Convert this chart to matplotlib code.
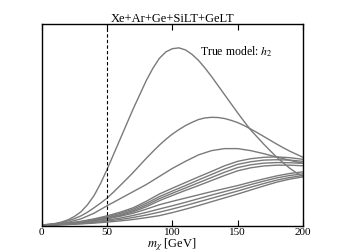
import numpy as np
import matplotlib
matplotlib.use("Agg")
import matplotlib.pyplot as plt

plt.rcParams['font.family'] = ['Liberation Serif', 'DejaVu Serif']
plt.rcParams['mathtext.fontset'] = 'stix'

# WIMP mass grids [GeV]
m_fine = [0, 5, 10, 15, 20, 25, 30, 35, 40, 45, 50, 55, 60, 65, 70, 75, 80, 85, 90, 95, 100,
          105, 110, 115, 120, 125, 130, 135, 140, 145, 150, 155, 160, 165, 170, 175, 180,
          185, 190, 195, 200]
m_chi = [0, 10, 20, 30, 40, 50, 60, 70, 80, 90, 100,
         110, 120, 130, 140, 150, 160, 170, 180, 190, 200]

# curves (arbitrary units, 0..1 of the axes)
curve_a = [0.005, 0.008, 0.012, 0.019, 0.03, 0.047, 0.07, 0.105, 0.15, 0.21, 0.28,
           0.355, 0.43, 0.505, 0.58, 0.65, 0.72, 0.78, 0.83, 0.862, 0.878,
           0.882, 0.872, 0.85, 0.82, 0.782, 0.74, 0.695, 0.65, 0.605, 0.56,
           0.517, 0.475, 0.44, 0.405, 0.372, 0.34, 0.312, 0.285, 0.263, 0.245]
curve_b = [0.005, 0.007, 0.01, 0.016, 0.025, 0.036, 0.05, 0.068, 0.09, 0.113, 0.138,
           0.168, 0.2, 0.232, 0.265, 0.3, 0.335, 0.368, 0.4, 0.429, 0.455,
           0.477, 0.497, 0.513, 0.527, 0.535, 0.538, 0.537, 0.532, 0.523, 0.512,
           0.497, 0.48, 0.462, 0.443, 0.424, 0.405, 0.387, 0.37, 0.355, 0.34]
curve_c = [0.005, 0.008, 0.018, 0.035, 0.063, 0.1, 0.135, 0.17, 0.205, 0.245, 0.285,
           0.32, 0.352, 0.373, 0.383, 0.383, 0.373, 0.358, 0.341, 0.325, 0.31]
upper_1 = [0.005, 0.008, 0.014, 0.023, 0.035, 0.05, 0.068, 0.09, 0.122, 0.158, 0.187,
           0.215, 0.243, 0.27, 0.298, 0.32, 0.333, 0.34, 0.342, 0.338, 0.33]
upper_2 = [0.005, 0.007, 0.012, 0.021, 0.032, 0.045, 0.062, 0.083, 0.112, 0.145, 0.173,
           0.2, 0.228, 0.255, 0.282, 0.305, 0.318, 0.326, 0.328, 0.326, 0.32]
upper_3 = [0.005, 0.007, 0.011, 0.019, 0.029, 0.041, 0.056, 0.076, 0.103, 0.135, 0.162,
           0.188, 0.214, 0.24, 0.266, 0.289, 0.303, 0.311, 0.314, 0.313, 0.31]
upper_4 = [0.005, 0.006, 0.01, 0.017, 0.026, 0.037, 0.051, 0.07, 0.095, 0.125, 0.151,
           0.176, 0.2, 0.225, 0.25, 0.273, 0.288, 0.297, 0.301, 0.301, 0.298]
lower_1 = [0.005, 0.007, 0.011, 0.017, 0.026, 0.036, 0.048, 0.063, 0.083, 0.105, 0.122,
           0.138, 0.154, 0.17, 0.185, 0.2, 0.217, 0.233, 0.248, 0.26, 0.268]
lower_2 = [0.005, 0.006, 0.009, 0.014, 0.021, 0.029, 0.039, 0.052, 0.067, 0.084, 0.1,
           0.117, 0.135, 0.153, 0.17, 0.187, 0.205, 0.222, 0.238, 0.25, 0.258]
lower_3 = [0.004, 0.005, 0.008, 0.012, 0.017, 0.024, 0.032, 0.042, 0.054, 0.068, 0.084,
           0.101, 0.119, 0.137, 0.155, 0.173, 0.192, 0.21, 0.227, 0.24, 0.25]
lower_4 = [0.004, 0.005, 0.007, 0.01, 0.014, 0.019, 0.025, 0.032, 0.041, 0.051, 0.066,
           0.083, 0.101, 0.12, 0.139, 0.158, 0.178, 0.198, 0.217, 0.232, 0.243]

fine_curves = [curve_a, curve_b]
coarse_curves = [curve_c, upper_1, upper_2, upper_3, upper_4,
                 lower_1, lower_2, lower_3, lower_4]

m_threshold = 50
xticks = [0, 50, 100, 150, 200]

fig = plt.figure(figsize=(3.37, 2.53), dpi=100)
ax = fig.add_axes([0.124, 0.103, 0.775, 0.798])

for c in fine_curves:
    ax.plot(m_fine, c, color='#7a7a7a', lw=1.0)
for c in coarse_curves:
    ax.plot(m_chi, c, color='#7a7a7a', lw=1.0)

ax.axvline(m_threshold, color='k', ls='--', lw=0.8, dashes=(3, 2))

ax.set_xlim(0, 200)
ax.set_ylim(0, 1)
ax.set_xticks(xticks)
ax.set_yticks([])
ax.tick_params(axis='x', direction='in', top=True, length=4, width=0.8,
               labelsize=8, pad=1)
for s in ax.spines.values():
    s.set_linewidth(1.0)

ax.set_xlabel(r'$m_\chi$ [GeV]', fontsize=9, labelpad=-1)
ax.set_title('Xe+Ar+Ge+SiLT+GeLT', fontsize=9, pad=2)
ax.text(121, 0.866, r'True model: $h_2$', fontsize=8.5, va='center')

fig.savefig('out.png', dpi=100)
